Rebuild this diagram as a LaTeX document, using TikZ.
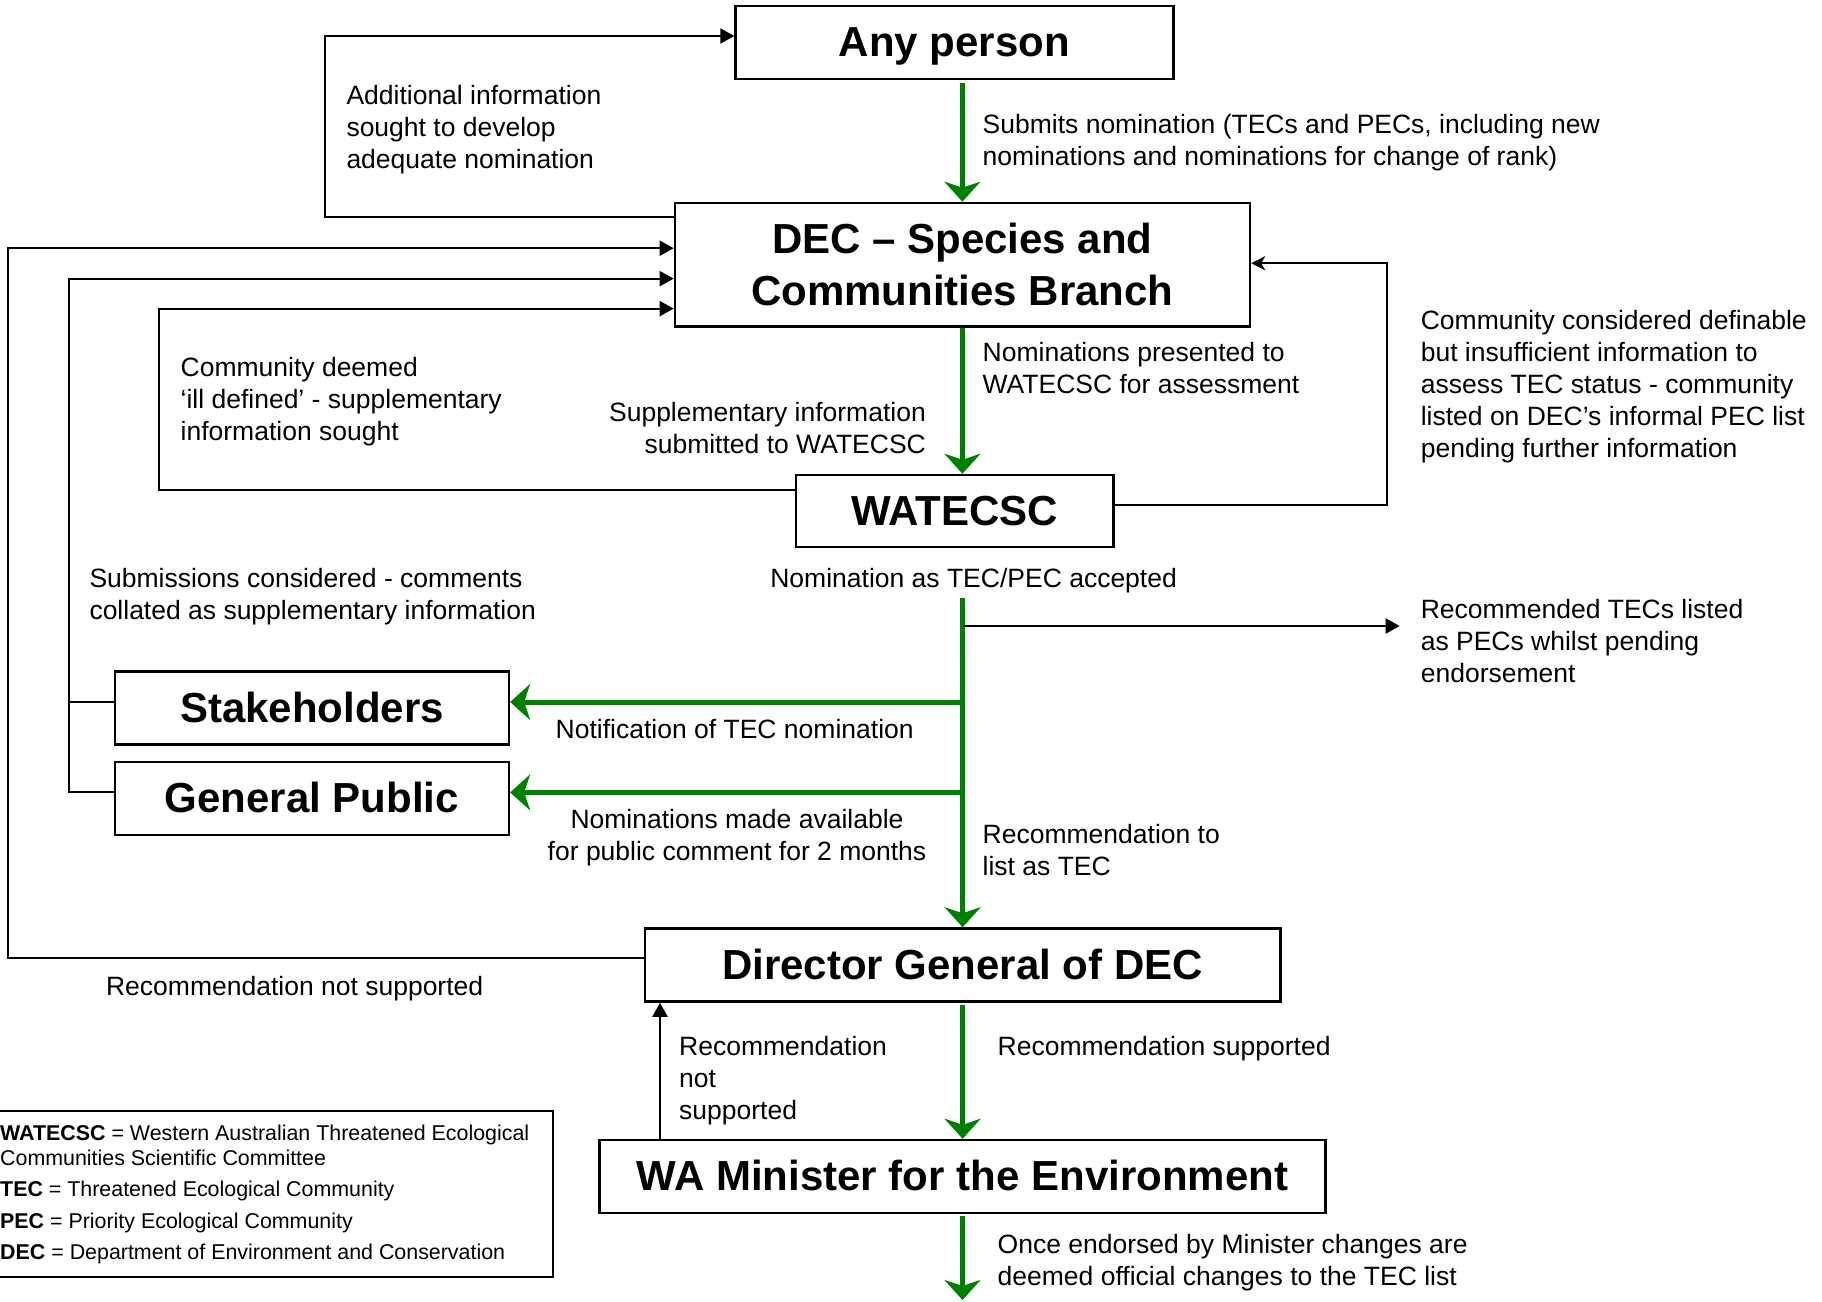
\documentclass[tikz,border=0pt]{standalone}
\usepackage{fontspec}
\setmainfont{Liberation Sans}
\usetikzlibrary{arrows, arrows.meta, positioning}
\definecolor{flowgreen}{RGB}{0,128,0}
\newcommand{\titlefont}{\fontsize{42}{52}\selectfont\bfseries}
\newcommand{\notefont}{\fontsize{26.5}{32.2}\selectfont}
\newcommand{\keyfont}{\fontsize{21.4}{24.8}\selectfont}
\tikzstyle{entity} = [rectangle, draw, line width=2.5pt, text centered, font=\titlefont, inner sep=0pt]
\tikzstyle{oneline} = [text height=30pt, text depth=2pt]
\tikzstyle{note} = [align=left, font=\notefont, inner sep=0pt, anchor=north west]
\tikzstyle{mainflow} = [draw=flowgreen, line width=5pt, -{Stealth[length=20pt, width=36pt, inset=6pt]}]
\tikzstyle{feedback} = [draw, line width=2pt, -{Triangle[length=14pt, width=15pt]}]
\tikzstyle{plainline} = [draw, line width=2pt]

\begin{document}
\begin{tikzpicture}[x=1pt, y=-1pt] %pixel grid of the original figure, y grows downwards
\useasboundingbox (0,0) rectangle (1822,1301);

%---------------------------------------------
%Boxes of the listing process
%---------------------------------------------

\node [entity, oneline, minimum width=438pt, minimum height=73pt] (any) at (954.5,42.4) {Any person};
%who starts a nomination

\node [entity, minimum width=575pt, minimum height=123.5pt, align=center] (dec) at (962.4,264.7) {DEC -- Species and\\Communities Branch};
%branch that receives the nominations

\node [entity, oneline, minimum width=317.6pt, minimum height=72pt] (wat) at (954.8,511) {WATECSC};
%scientific committee

\node [entity, oneline, minimum width=394pt, minimum height=73pt] (stake) at (311.9,708) {Stakeholders};
\node [entity, oneline, minimum width=394pt, minimum height=73pt] (pub) at (311.9,798.4) {General Public};
%the two groups that get the notification

\node [entity, oneline, minimum width=635.6pt, minimum height=73pt] (dg) at (962.6,965) {Director General of DEC};
\node [entity, oneline, minimum width=726pt, minimum height=73pt] (mini) at (962.5,1176.5) {WA Minister for the Environment};

%---------------------------------------------
%Texts along the connectors (x,y)
%---------------------------------------------
\node [note] (addinfo) at (346.3,84.6) {Additional information\\sought to develop\\adequate nomination};
\node [note] (submits) at (982.5,114) {Submits nomination (TECs and PECs, including new\\nominations and nominations for change of rank)};
\node [note] (presented) at (982.5,341.8) {Nominations presented to\\WATECSC for assessment};
\node [note, anchor=north east, align=right] (suppl) at (926,401.8) {Supplementary information\\submitted to WATECSC};
\node [note] (illdef) at (180.5,356.8) {Community deemed\\‘ill defined’ - supplementary\\information sought};
\node [note] (definable) at (1420.6,309.6) {Community considered definable\\but insufficient information to\\assess TEC status - community\\listed on DEC’s informal PEC list\\pending further information};
\node [note, anchor=north, align=center] (accepted) at (973.6,568) {Nomination as TEC/PEC accepted};
\node [note] (collated) at (89.3,568) {Submissions considered - comments\\collated as supplementary information};
\node [note] (listed) at (1420.6,598.7) {Recommended TECs listed\\as PECs whilst pending\\endorsement};
\node [note, anchor=north, align=center] (notif) at (734.7,719) {Notification of TEC nomination};
\node [note, anchor=north, align=center] (available) at (737,809) {Nominations made available\\for public comment for 2 months};
\node [note] (recto) at (982.5,824) {Recommendation to\\list as TEC};
\node [note] (notsupp) at (105.9,976) {Recommendation not supported};
\node [note] (notsupp2) at (679,1035.8) {Recommendation\\not\\supported};
\node [note] (supp) at (997.5,1035.8) {Recommendation supported};
\node [note] (official) at (997.5,1233.8) {Once endorsed by Minister changes are\\deemed official changes to the TEC list};

%---------------------------------------------
%Key of the abbreviations
%---------------------------------------------
\node [draw, line width=2pt, minimum width=564pt, minimum height=166.4pt, anchor=north east, inner sep=0pt] (keybox) at (554.2,1109.6) {};
\node [align=left, font=\keyfont, inner sep=0pt, anchor=north west] (key) at (0,1125) {\textbf{WATECSC} = Western Australian Threatened Ecological\\Communities Scientific Committee\\[6.6pt]\textbf{TEC} = Threatened Ecological Community\\[6.4pt]\textbf{PEC} = Priority Ecological Community\\[6.4pt]\textbf{DEC} = Department of Environment and Conservation};

%---------------------------------------------
%Green arrows of the main flow
%---------------------------------------------
\coordinate (stakein) at ([yshift=6pt]stake.east);
\coordinate (pubin) at ([yshift=6pt]pub.east);
\coordinate (pecs) at (1399.7,626);
\coordinate (endflow) at (962.5,1300);

\path [mainflow, shorten <=3pt] (dec.north |- any.south) -- (dec.north);
\path [mainflow] (dec.south) -- (dec.south |- wat.north);
\path [mainflow, shorten <=5pt] (accepted.south -| dg.north) -- (dg.north);
\path [mainflow] (stakein -| dg.north) -- (stakein);
\path [mainflow] (pubin -| dg.north) -- (pubin);
\path [mainflow, shorten <=2pt] (dg.south) -- (dg.south |- mini.north);
\path [mainflow, shorten <=2pt] (mini.south) -- (endflow);

%---------------------------------------------
%Black return arrows
%---------------------------------------------
\path [feedback] ([yshift=47.7pt]dec.west) -- ++(-348.5,0) |- ([yshift=6.4pt]any.west);
\path [feedback] ([yshift=6.6pt]dg.west) -- ++(-635.2,0) |- ([yshift=16.5pt]dec.west);
\path [feedback] ([yshift=6pt]pub.west) -- ++(-44.6,0) |- ([yshift=-13.9pt]dec.west);
\path [plainline] ([yshift=6pt]stake.west) -- ++(-44.6,0);
\path [feedback] ([yshift=21pt]wat.west) -- ++(-635.3,0) |- ([yshift=-43.9pt]dec.west);
\path [feedback, -{Stealth[length=14pt, width=14pt, inset=4pt]}] ([yshift=6.4pt]wat.east) -- ++(271.8,0) |- ([yshift=1.5pt]dec.east);
\path [feedback] (pecs -| dg.north) -- (pecs);
\coordinate (upstart) at ([xshift=-302.5pt]mini.north);
\path [feedback] (upstart) -- (upstart |- dg.south);

\end{tikzpicture}
\end{document}
